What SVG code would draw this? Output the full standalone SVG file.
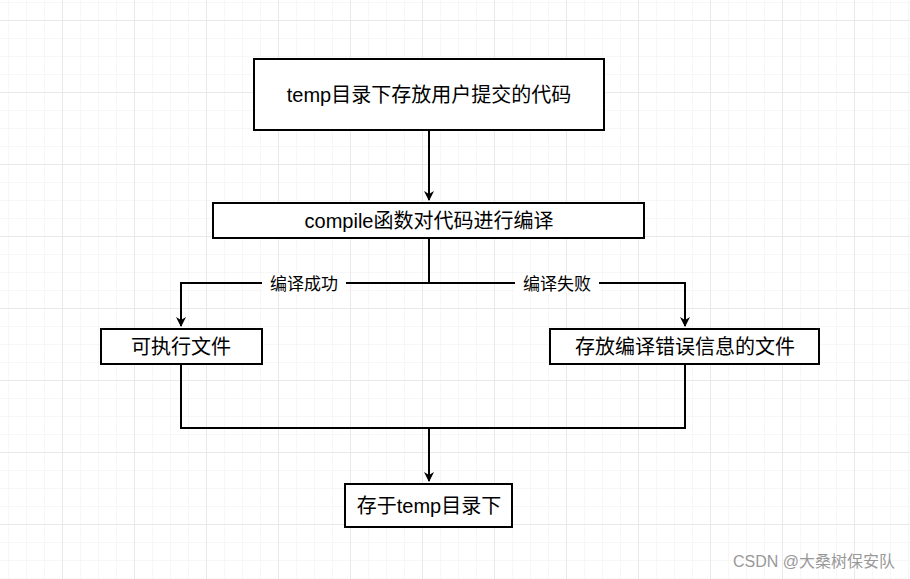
<svg xmlns="http://www.w3.org/2000/svg" width="910" height="579" viewBox="0 0 910 579">
<defs>
<pattern id="minor" x="8" y="2" width="18" height="18" patternUnits="userSpaceOnUse"><path d="M0 0H18M0 0V18" fill="none" stroke="#f0f0f0" stroke-width="1"/></pattern>
<pattern id="major" x="62" y="20" width="72" height="72" patternUnits="userSpaceOnUse"><path d="M0 0H72M0 0V72" fill="none" stroke="#dcdcdc" stroke-width="1"/></pattern>
<marker id="arr" viewBox="0 0 10 10" refX="9" refY="5" markerWidth="10" markerHeight="10" markerUnits="userSpaceOnUse" orient="auto"><path d="M0 0L10 5L0 10L3 5Z" fill="#000"/></marker>
</defs>
<style>
.box{fill:#fff;stroke:#000;stroke-width:2}
.t{font-family:"Liberation Sans","Noto Sans CJK SC",sans-serif;font-size:20px;text-anchor:middle;fill:#000}
.l{font-family:"Liberation Sans","Noto Sans CJK SC",sans-serif;font-size:17px;text-anchor:middle;fill:#000}
.c{fill:none;stroke:#000;stroke-width:2}
</style>
<rect width="910" height="579" fill="#fff"/>
<rect width="910" height="579" fill="url(#minor)"/>
<rect width="910" height="579" fill="url(#major)"/>
<g id="connectors">
<path class="c" d="M429 131V200" marker-end="url(#arr)"/>
<path class="c" d="M429 239V283H181V326" marker-end="url(#arr)"/>
<path class="c" d="M429 283H685V326" marker-end="url(#arr)"/>
<path class="c" d="M181 365V428H685V365"/>
<path class="c" d="M429 428V481" marker-end="url(#arr)"/>
<rect x="262" y="273" width="84" height="20" fill="#fff"/>
<text class="l" x="304" y="290">编译成功</text>
<rect x="515" y="273" width="84" height="20" fill="#fff"/>
<text class="l" x="557" y="290">编译失败</text>
</g>
<g id="n1"><rect class="box" x="254" y="59" width="350" height="71"/><text class="t" x="429" y="102">temp目录下存放用户提交的代码</text></g>
<g id="n2"><rect class="box" x="213" y="203" width="431" height="35"/><text class="t" x="429" y="228">compile函数对代码进行编译</text></g>
<g id="n3"><rect class="box" x="101" y="329" width="161" height="35"/><text class="t" x="181" y="354">可执行文件</text></g>
<g id="n4"><rect class="box" x="550" y="329" width="269" height="35"/><text class="t" x="685" y="354">存放编译错误信息的文件</text></g>
<g id="n5"><rect class="box" x="345" y="484" width="167" height="43"/><text class="t" x="429" y="513">存于temp目录下</text></g>
<text x="895" y="567" font-family="Liberation Sans,Noto Sans CJK SC,sans-serif" font-size="16" fill="#999" text-anchor="end">CSDN @大桑树保安队</text>
</svg>
